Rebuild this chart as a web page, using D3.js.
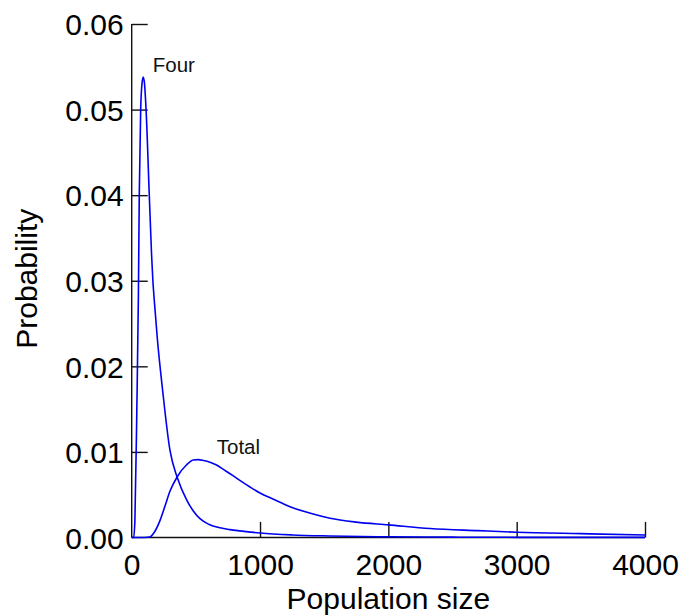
<!DOCTYPE html>
<html><head><meta charset="utf-8">
<script src="https://cdn.jsdelivr.net/npm/d3@7/dist/d3.min.js"></script>
<style>
body{margin:0;background:#fff;}
svg{display:block;font-family:"Liberation Sans",Arial,sans-serif;}
</style></head>
<body>
<svg id="chart" width="680" height="616"></svg>
<script>
// Data
const fourPop = [0, 15, 25, 40, 52, 59, 70, 80, 90, 100, 112, 137, 155, 165, 176, 200, 241, 298, 355, 428, 480, 532, 600, 688, 766, 844, 1000, 1250, 1545, 2000, 2500, 3000, 4000];
const fourProb = [0, 0, 0.002, 0.015, 0.028, 0.040, 0.050, 0.0530, 0.0538, 0.0530, 0.050, 0.040, 0.033, 0.030, 0.0277, 0.0232, 0.0172, 0.0102, 0.0070, 0.0044, 0.0031, 0.0022, 0.00155, 0.00113, 0.00092, 0.00077, 0.00052, 0.00030, 0.00018, 0.00008, 0.00004, 0.00002, 0.00001];
const totalPop = [0, 100, 140, 180, 221, 260, 298, 355, 428, 480, 519, 560, 610, 657, 720, 792, 860, 922, 1000, 1100, 1234, 1400, 1545, 1750, 2000, 2325, 2700, 3000, 3500, 4000];
const totalProb = [0, 0, 0.00005, 0.0007, 0.0020, 0.0037, 0.0054, 0.0071, 0.0085, 0.00905, 0.0091, 0.0090, 0.0088, 0.0085, 0.0079, 0.0072, 0.0065, 0.0059, 0.0052, 0.0045, 0.0036, 0.0028, 0.00225, 0.0018, 0.00148, 0.00105, 0.0008, 0.00062, 0.00045, 0.0003];
const xTicks = [0, 1000, 2000, 3000, 4000];
const yTicks = [0, 0.01, 0.02, 0.03, 0.04, 0.05, 0.06];
const labels = [{text: "Four", x: 164, y: 0.0544}, {text: "Total", x: 663, y: 0.00976}];

const svg = d3.select("#chart");
const x = d3.scaleLinear().domain([0, 4000]).range([131.7, 645]);
const y = d3.scaleLinear().domain([0, 0.06]).range([537.5, 24]);

// Axes
const xAxis = d3.axisBottom(x).tickValues(xTicks).tickSize(-15.6).tickSizeOuter(0).tickFormat(d3.format("d"));
const gx = svg.append("g").attr("transform", `translate(0,${y(0)})`).call(xAxis);
gx.select(".domain").attr("d", `M${x(0)},0H${x(4000)}`);
const yAxis = d3.axisLeft(y).tickValues(yTicks).tickSize(-16).tickSizeOuter(0).tickFormat(d3.format(".2f"));
const gy = svg.append("g").attr("transform", `translate(${x(0)},0)`).call(yAxis);
gy.select(".domain").attr("d", `M0,${y(0)}V${y(0.06)}`);
svg.selectAll(".domain, .tick line").attr("stroke", "#111").attr("stroke-width", 1.4);
gx.selectAll(".tick text").attr("y", 0).attr("dy", null).attr("transform", "translate(0,37.5)")
  .attr("font-size", 30).attr("fill", "#000").attr("font-family", "Liberation Sans, Arial, sans-serif");
gy.selectAll(".tick text").attr("x", -8).attr("dy", "0.36em")
  .attr("font-size", 30).attr("fill", "#000").attr("font-family", "Liberation Sans, Arial, sans-serif");
// tick lines at the origin coincide with the other axis
gy.selectAll(".tick").filter(d => d === 0).select("line").remove();
gx.selectAll(".tick").filter(d => d === 0).select("line").remove();

// Curves
const line = d3.line().x(d => x(d[0])).y(d => y(d[1])).curve(d3.curveMonotoneX);
svg.append("path").datum(d3.zip(fourPop, fourProb)).attr("d", line)
  .attr("fill", "none").attr("stroke", "#0000f0").attr("stroke-width", 1.6);
svg.append("path").datum(d3.zip(totalPop, totalProb)).attr("d", line)
  .attr("fill", "none").attr("stroke", "#0000f0").attr("stroke-width", 1.6);

// Curve labels
svg.selectAll(".lbl").data(labels).enter().append("text").attr("class", "lbl")
  .attr("x", d => x(d.x)).attr("y", d => y(d.y)).attr("font-size", 20.5).attr("fill", "#111")
  .text(d => d.text);

// Axis titles
svg.append("text").attr("x", (x(0) + x(4000)) / 2).attr("y", 609).attr("text-anchor", "middle")
  .attr("font-size", 30).attr("fill", "#000").text("Population size");
svg.append("text").attr("transform", `translate(36.5,${(y(0) + y(0.06)) / 2 - 2}) rotate(-90)`)
  .attr("text-anchor", "middle").attr("font-size", 30).attr("fill", "#000").text("Probability");
</script>
</body></html>
